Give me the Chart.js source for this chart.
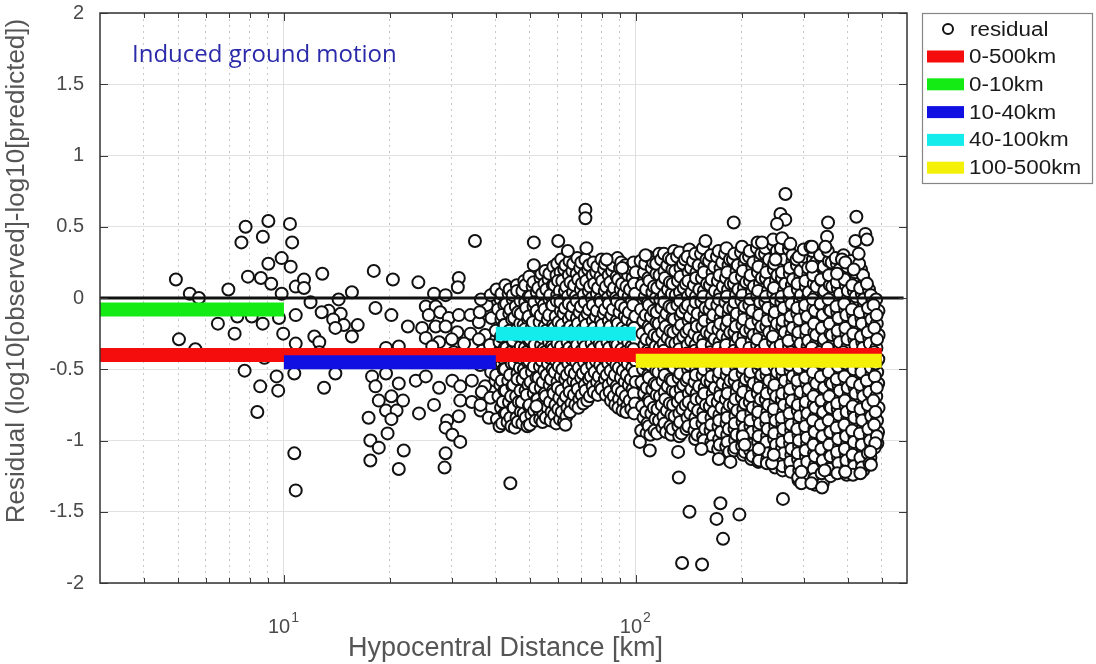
<!DOCTYPE html>
<html>
<head>
<meta charset="utf-8">
<script src="https://cdn.jsdelivr.net/npm/chart.js@4.4.1/dist/chart.umd.min.js"></script>
<style>
  html, body { margin: 0; padding: 0; background: #ffffff; }
  canvas { display: block; }
</style>
</head>
<body>
<canvas id="residualChart" width="1096" height="664"></canvas>
<script>
// Residuals as [hypocentral distance (km), log10(observed) - log10(predicted)]
const residuals0to10 = [
  [4.93,0.13],[5.4,0.03],[5.73,0.0],[6.95,0.06],[7.78,0.50],[9.03,0.54],[7.57,0.39],[8.71,0.43],[9.85,0.28],[9.03,0.24],
  [7.9,0.15],[8.6,0.14],[9.2,0.10],[9.85,0.03],[7.37,-0.13],[8.1,-0.13],[9.68,-0.14],[6.49,-0.18],[8.7,-0.18],[7.24,-0.25],
  [9.95,-0.25],[5.03,-0.29],[5.6,-0.36],[6.98,-0.40],[8.8,-0.42],[7.73,-0.51],[9.53,-0.55],[8.56,-0.62],[9.63,-0.65],[8.4,-0.80]
];

const residuals10to40 = [
  [10.4,0.52],[10.55,0.39],[10.45,0.22],[10.8,0.08],[10.8,-0.12],[10.8,-0.32],[10.7,-0.53],[10.7,-1.09],[10.8,-1.35],
  [12.85,0.17],[18.0,0.19],[20.4,0.13],[24.1,0.11],[31.4,0.14],[31.2,0.075],[34.9,0.40],[11.4,0.13],[11.4,0.07],[11.9,-0.03],
  [15.6,0.04],[14.3,-0.01],[13.4,-0.09],[12.8,-0.10],[14.5,-0.11],[13.8,-0.15],[14.8,-0.19],[16.2,-0.19],[14.0,-0.21],
  [15.6,-0.27],[12.2,-0.27],[12.6,-0.31],[18.2,-0.07],[20.2,-0.12],[22.5,-0.20],[26.7,0.03],[28.8,0.02],[25.3,-0.06],
  [27.0,-0.06],[25.8,-0.12],[27.8,-0.10],[29.4,-0.14],[31.4,-0.12],[33.9,-0.12],[35.8,-0.17],[24.7,-0.21],[27.0,-0.20],
  [28.8,-0.20],[31.1,-0.24],[33.9,-0.25],[37.3,-0.26],[25.3,-0.28],[27.6,-0.31],[30.0,-0.29],[32.5,-0.32],[35.8,-0.29],
  [37.7,-0.05],[39.8,0.04],[19.5,-0.35],[21.2,-0.34],[26.4,-0.34],
  [12.6,-0.38],[15.3,-0.42],[18.6,-0.40],[22.6,-0.43],[27.6,-0.41],[33.5,-0.45],[30.4,-0.38],
  [14.0,-0.53],[13.0,-0.63],[17.8,-0.55],[18.2,-0.62],[19.5,-0.53],[21.2,-0.60],[18.6,-0.72],[20.2,-0.69],[21.8,-0.72],
  [19.5,-0.79],[20.9,-0.79],[23.7,-0.58],[25.3,-0.55],[27.6,-0.63],[30.1,-0.58],[31.7,-0.62],[34.2,-0.58],[37.3,-0.62],
  [39.9,-0.58],[31.7,-0.72],[34.2,-0.73],[36.2,-0.79],[38.2,-0.84],[26.7,-0.75],[24.2,-0.81],[17.4,-0.84],[20.2,-0.85],
  [29.1,-0.86],[31.4,-0.83],[28.8,-0.91],[30.1,-0.96],[31.7,-1.01],[19.7,-0.95],[17.6,-1.00],[18.6,-1.05],[17.6,-1.14],
  [21.9,-1.07],[21.2,-1.20],[28.8,-1.09],[28.6,-1.19],
  [36.3,-0.01],[36.0,-0.10],[36.6,-0.37],[36.1,-0.47],[36.5,-0.66],[36.2,-0.75],
  [38.7,0.02],[38.9,-0.14],[38.5,-0.33],[38.8,-0.52],[38.6,-0.70]
];

const residuals40to100 = [
  [40.2,0.06],[41.3,-0.01],[40.6,-0.08],[41.5,-0.15],[40.0,-0.23],[41.0,-0.31],[40.4,-0.39],[41.6,-0.46],[40.1,-0.54],[41.2,-0.61],[40.7,-0.69],[41.4,-0.77],[40.3,-0.85],[41.0,-0.90],
  [41.5,0.03],[42.3,-0.05],[41.7,-0.12],[42.2,-0.19],[41.4,-0.27],[42.4,-0.35],[41.8,-0.42],[42.1,-0.50],[41.6,-0.58],[42.3,-0.65],[41.9,-0.73],[42.4,-0.81],[41.7,-0.88],
  [42.6,0.09],[43.5,0.03],[42.8,-0.04],[43.7,-0.11],[42.4,-0.19],[43.3,-0.27],[42.9,-0.35],[43.8,-0.42],[42.5,-0.50],[43.4,-0.58],[42.7,-0.65],[43.6,-0.73],[42.8,-0.81],[43.2,-0.87],
  [43.8,0.06],[44.7,-0.01],[44.0,-0.08],[44.5,-0.15],[43.7,-0.23],[44.8,-0.31],[44.1,-0.38],[44.4,-0.46],[43.9,-0.54],[44.6,-0.62],[44.2,-0.69],[44.8,-0.77],[44.0,-0.84],[44.3,-0.90],
  [45.9,0.09],[44.7,0.02],[45.6,-0.06],[45.1,-0.14],[46.0,-0.22],[44.8,-0.30],[45.5,-0.38],[45.2,-0.46],[46.1,-0.53],[44.9,-0.61],[45.7,-0.69],[45.0,-0.77],[45.8,-0.84],[45.3,-0.91],
  [46.0,0.05],[47.0,-0.02],[46.3,-0.10],[46.9,-0.18],[45.9,-0.26],[47.1,-0.34],[46.4,-0.42],[46.8,-0.49],[46.1,-0.57],[47.0,-0.65],[46.5,-0.73],[47.1,-0.80],[46.2,-0.87],
  [48.2,0.12],[47.6,0.05],[48.5,-0.03],[47.1,-0.11],[48.0,-0.19],[47.5,-0.27],[48.4,-0.35],[47.2,-0.42],[48.1,-0.50],[47.7,-0.57],[48.6,-0.65],[47.4,-0.73],[48.0,-0.81],[47.6,-0.88],
  [48.5,0.09],[49.6,0.01],[48.8,-0.07],[49.4,-0.15],[48.4,-0.22],[49.7,-0.30],[48.9,-0.38],[49.3,-0.45],[48.6,-0.53],[49.5,-0.61],[49.0,-0.68],[49.7,-0.76],[48.7,-0.84],[49.2,-0.90],
  [49.8,0.15],[50.9,0.08],[50.1,0.01],[51.2,-0.06],[49.6,-0.13],[50.6,-0.21],[50.0,-0.29],[51.0,-0.37],[49.7,-0.44],[50.7,-0.52],[50.2,-0.59],[51.3,-0.67],[49.9,-0.75],[50.5,-0.82],[50.0,-0.89],
  [51.2,0.11],[52.3,0.04],[51.5,-0.03],[52.1,-0.10],[51.0,-0.17],[52.4,-0.25],[51.6,-0.33],[52.0,-0.40],[51.3,-0.48],[52.2,-0.56],[51.7,-0.63],[52.4,-0.71],[51.4,-0.79],[51.9,-0.86],
  [53.6,0.14],[52.8,0.07],[53.9,-0.01],[52.3,-0.09],[53.3,-0.17],[52.7,-0.25],[53.8,-0.33],[52.4,-0.40],[53.4,-0.48],[52.9,-0.56],[53.7,-0.63],[52.6,-0.71],[53.2,-0.79],[53.5,-0.85],
  [53.9,0.17],[55.0,0.10],[54.2,0.03],[54.8,-0.05],[53.7,-0.12],[55.1,-0.20],[54.3,-0.28],[54.7,-0.36],[54.0,-0.44],[54.9,-0.51],[54.4,-0.59],[55.1,-0.67],[54.1,-0.74],[54.6,-0.81],[54.3,-0.87],
  [55.3,0.19],[56.5,0.13],[55.7,0.06],[56.8,-0.01],[55.1,-0.08],[56.2,-0.15],[55.6,-0.23],[56.7,-0.31],[55.2,-0.38],[56.3,-0.46],[55.8,-0.54],[56.9,-0.61],[55.4,-0.69],[56.1,-0.77],[55.5,-0.84],
  [56.8,0.17],[58.1,0.09],[57.1,0.02],[57.8,-0.05],[56.7,-0.12],[58.2,-0.19],[57.3,-0.27],[57.7,-0.34],[57.0,-0.42],[58.0,-0.50],[57.4,-0.57],[58.2,-0.65],[57.0,-0.73],[57.6,-0.80],[57.3,-0.86],
  [58.3,0.22],[59.5,0.16],[58.7,0.09],[59.8,0.02],[58.0,-0.05],[59.2,-0.13],[58.6,-0.21],[59.7,-0.29],[58.2,-0.36],[59.3,-0.44],[58.8,-0.52],[59.9,-0.59],[58.4,-0.67],[59.1,-0.75],[58.6,-0.82],[59.4,-0.88],
  [59.8,0.24],[61.1,0.18],[60.1,0.12],[60.8,0.05],[59.6,-0.02],[61.2,-0.09],[60.3,-0.17],[60.7,-0.25],[59.9,-0.32],[61.0,-0.40],[60.4,-0.48],[61.2,-0.55],[60.0,-0.63],[60.6,-0.70],[60.2,-0.78],[60.9,-0.85],
  [61.4,0.27],[62.6,0.20],[61.8,0.12],[62.9,0.05],[61.1,-0.03],[62.3,-0.11],[61.7,-0.19],[62.8,-0.27],[61.3,-0.34],[62.4,-0.42],[61.9,-0.50],[63.0,-0.57],[61.5,-0.65],[62.2,-0.73],[61.6,-0.80],[62.5,-0.87],
  [63.1,0.23],[64.5,0.16],[63.4,0.08],[64.1,0.01],[62.9,-0.07],[64.5,-0.15],[63.6,-0.23],[64.0,-0.31],[63.2,-0.38],[64.3,-0.46],[63.7,-0.54],[64.5,-0.61],[63.3,-0.69],[63.9,-0.77],[63.5,-0.83],
  [64.8,0.26],[66.0,0.19],[65.2,0.11],[66.3,0.04],[64.5,-0.04],[65.7,-0.12],[65.1,-0.20],[66.2,-0.28],[64.7,-0.35],[65.8,-0.43],[65.3,-0.51],[66.4,-0.58],[64.9,-0.66],[65.6,-0.74],[65.0,-0.80],
  [66.4,0.24],[67.9,0.17],[66.8,0.09],[67.5,0.01],[66.3,-0.06],[68.0,-0.14],[67.0,-0.22],[67.4,-0.30],[66.6,-0.37],[67.7,-0.45],[67.1,-0.53],[68.0,-0.60],[66.7,-0.68],[67.3,-0.75],
  [68.2,0.28],[69.5,0.21],[68.6,0.13],[69.8,0.06],[67.9,-0.02],[69.2,-0.10],[68.5,-0.18],[69.7,-0.26],[68.1,-0.33],[69.3,-0.41],[68.8,-0.49],[69.9,-0.56],[68.4,-0.64],[69.1,-0.71],[68.7,-0.77],
  [70.0,0.25],[71.5,0.17],[70.3,0.10],[71.1,0.02],[69.8,-0.06],[71.6,-0.14],[70.5,-0.22],[71.0,-0.30],[70.1,-0.37],[71.3,-0.45],[70.7,-0.53],[71.6,-0.61],[70.2,-0.68],[70.9,-0.74],
  [71.9,0.27],[73.2,0.20],[72.3,0.12],[73.5,0.05],[71.6,-0.03],[72.9,-0.11],[72.2,-0.19],[73.4,-0.27],[71.8,-0.34],[73.0,-0.42],[72.5,-0.50],[73.6,-0.57],[72.0,-0.65],[72.8,-0.72],
  [73.7,0.23],[75.4,0.16],[74.1,0.08],[75.0,0.00],[73.6,-0.08],[75.5,-0.16],[74.3,-0.24],[74.9,-0.32],[73.9,-0.39],[75.2,-0.47],[74.5,-0.55],[75.4,-0.62],[74.0,-0.69],
  [75.8,0.25],[77.2,0.18],[76.2,0.10],[77.5,0.03],[75.5,-0.05],[76.9,-0.13],[76.1,-0.21],[77.4,-0.29],[75.7,-0.36],[77.0,-0.44],[76.4,-0.52],[77.6,-0.59],[76.0,-0.66],
  [77.7,0.22],[79.4,0.15],[78.1,0.07],[79.0,-0.01],[77.5,-0.09],[79.5,-0.16],[78.3,-0.24],[78.9,-0.32],[77.8,-0.40],[79.2,-0.47],[78.5,-0.55],[79.4,-0.62],[78.0,-0.68],
  [79.9,0.27],[81.3,0.20],[80.3,0.12],[81.6,0.05],[79.6,-0.03],[81.0,-0.11],[80.2,-0.19],[81.5,-0.27],[79.8,-0.34],[81.1,-0.42],[80.5,-0.50],[81.7,-0.57],[80.0,-0.64],
  [81.8,0.24],[83.7,0.16],[82.3,0.08],[83.2,0.00],[81.7,-0.08],[83.8,-0.16],[82.5,-0.24],[83.1,-0.31],[82.0,-0.39],[83.5,-0.46],[82.7,-0.54],[83.7,-0.61],[82.2,-0.68],
  [84.1,0.26],[85.6,0.19],[84.6,0.11],[86.0,0.04],[83.8,-0.04],[85.3,-0.12],[84.5,-0.20],[85.8,-0.28],[84.0,-0.35],[85.4,-0.43],[84.8,-0.51],[86.1,-0.58],[84.3,-0.66],[85.0,-0.72],
  [86.2,0.23],[88.2,0.15],[86.7,0.07],[87.7,0.00],[86.1,-0.08],[88.3,-0.16],[87.0,-0.24],[87.6,-0.32],[86.4,-0.39],[88.0,-0.47],[87.2,-0.54],[88.2,-0.62],[86.6,-0.69],[87.4,-0.75],
  [88.7,0.28],[90.2,0.21],[89.1,0.13],[90.6,0.06],[88.4,-0.02],[89.9,-0.10],[89.0,-0.18],[90.4,-0.26],[88.6,-0.33],[90.0,-0.41],[89.4,-0.49],[90.7,-0.56],[88.9,-0.64],[89.6,-0.71],[89.2,-0.77],
  [90.9,0.25],[93.0,0.18],[91.4,0.10],[92.5,0.03],[90.8,-0.05],[93.1,-0.13],[91.6,-0.21],[92.4,-0.29],[91.1,-0.36],[92.8,-0.44],[91.9,-0.51],[93.0,-0.59],[91.3,-0.66],[92.2,-0.73],[91.7,-0.79],
  [93.5,0.23],[95.1,0.16],[94.0,0.08],[95.4,0.01],[93.2,-0.07],[94.7,-0.15],[93.8,-0.23],[95.2,-0.31],[93.4,-0.38],[94.9,-0.46],[94.2,-0.54],[95.5,-0.61],[93.6,-0.69],[94.5,-0.76],[93.9,-0.80],
  [95.7,0.21],[97.9,0.14],[96.3,0.06],[97.4,-0.02],[95.6,-0.10],[98.0,-0.18],[96.5,-0.26],[97.3,-0.34],[95.9,-0.41],[97.7,-0.49],[96.8,-0.57],[97.9,-0.64],[96.1,-0.72],[97.1,-0.78],
  [98.6,0.25],[99.9,0.18],[98.9,0.10],[99.6,0.03],[98.3,-0.05],[99.7,-0.13],[98.8,-0.21],[99.8,-0.29],[98.5,-0.36],[99.8,-0.44],[99.2,-0.52],[99.9,-0.59],[98.7,-0.67],[99.5,-0.74],[98.9,-0.81],
  [51.3,0.39],[51.3,0.23],[60.2,0.40],[63.1,-0.89],[64.1,0.33],[71.9,0.62],[71.9,0.56],[72.4,0.35],[82.6,0.27],[91.5,0.21],[44.0,-1.30],[52.2,-0.76]
];

const residuals100to500 = [
  [103.2,0.26],[105.5,0.18],[104.0,0.09],[106.1,0.01],[103.5,-0.08],[105.0,-0.16],[104.4,-0.25],[105.8,-0.33],[103.0,-0.42],[104.9,-0.50],[103.8,-0.59],[105.6,-0.67],[104.2,-0.76],[105.2,-0.84],[103.6,-0.93],
  [106.4,0.24],[108.6,0.14],[107.0,0.06],[108.3,-0.03],[106.7,-0.12],[108.8,-0.20],[107.2,-0.29],[108.1,-0.37],[106.5,-0.46],[108.5,-0.54],[107.4,-0.63],[108.9,-0.71],[106.9,-0.80],[108.0,-0.88],[107.3,-0.95],
  [108.6,0.29],[111.0,0.21],[109.3,0.12],[111.5,0.04],[108.9,-0.05],[110.4,-0.13],[109.8,-0.22],[111.2,-0.30],[108.4,-0.39],[110.1,-0.47],[109.0,-0.56],[111.4,-0.64],[109.5,-0.73],[110.7,-0.81],[108.8,-0.90],[110.0,-0.96],
  [112.0,0.25],[114.4,0.17],[112.6,0.08],[114.0,0.00],[112.3,-0.09],[114.5,-0.17],[112.9,-0.26],[113.8,-0.34],[112.1,-0.43],[114.2,-0.51],[113.1,-0.60],[114.6,-0.68],[112.5,-0.77],[113.7,-0.85],[113.0,-0.93],
  [116.5,0.31],[114.3,0.24],[116.8,0.16],[115.0,0.07],[117.3,-0.01],[114.6,-0.10],[116.2,-0.18],[115.5,-0.27],[117.0,-0.35],[114.1,-0.44],[115.9,-0.52],[114.8,-0.61],[117.1,-0.69],[115.3,-0.78],[116.4,-0.86],[114.9,-0.95],
  [118.0,0.27],[120.6,0.19],[118.7,0.10],[120.2,0.02],[118.3,-0.07],[120.7,-0.15],[118.9,-0.24],[119.9,-0.32],[118.1,-0.41],[120.4,-0.49],[119.2,-0.58],[120.8,-0.66],[118.5,-0.75],[119.8,-0.83],[119.0,-0.91],
  [120.2,0.31],[122.9,0.23],[121.0,0.14],[123.4,0.06],[120.6,-0.03],[122.2,-0.11],[121.5,-0.20],[123.1,-0.28],[120.0,-0.37],[121.8,-0.45],[120.8,-0.54],[123.2,-0.62],[121.3,-0.71],[122.5,-0.79],[120.7,-0.88],[121.9,-0.94],
  [124.3,0.28],[127.1,0.20],[125.0,0.11],[126.6,0.03],[124.6,-0.06],[127.2,-0.14],[125.3,-0.23],[126.3,-0.31],[124.4,-0.40],[126.9,-0.48],[125.6,-0.57],[127.3,-0.65],[124.9,-0.74],[126.2,-0.82],[125.4,-0.90],[126.0,-0.96],
  [128.5,0.33],[126.6,0.27],[129.4,0.19],[127.3,0.10],[129.9,0.02],[126.9,-0.07],[128.6,-0.15],[127.9,-0.24],[129.5,-0.32],[126.4,-0.41],[128.3,-0.49],[127.1,-0.58],[129.7,-0.66],[127.6,-0.75],[128.9,-0.83],[127.2,-0.92],
  [131.0,0.29],[134.0,0.21],[131.8,0.12],[133.5,0.04],[131.3,-0.05],[134.1,-0.13],[132.1,-0.22],[133.2,-0.30],[131.1,-0.39],[133.8,-0.47],[132.4,-0.56],[134.2,-0.64],[131.6,-0.73],[133.0,-0.81],[132.2,-0.90],[132.9,-0.97],
  [133.2,0.32],[136.2,0.24],[134.0,0.15],[136.8,0.07],[133.5,-0.02],[135.3,-0.10],[134.6,-0.19],[136.4,-0.27],[133.0,-0.36],[135.0,-0.44],[133.8,-0.53],[136.5,-0.61],[134.3,-0.70],[135.7,-0.78],[133.6,-0.87],[134.9,-0.95],
  [138.0,0.27],[141.2,0.18],[138.8,0.10],[140.6,0.01],[138.3,-0.07],[141.3,-0.16],[139.2,-0.24],[140.3,-0.33],[138.1,-0.41],[140.9,-0.50],[139.4,-0.58],[141.4,-0.67],[138.6,-0.75],[140.2,-0.84],[139.3,-0.92],
  [142.0,0.34],[140.2,0.29],[143.4,0.21],[141.0,0.12],[144.0,0.04],[140.6,-0.05],[142.5,-0.13],[141.7,-0.22],[143.6,-0.30],[140.0,-0.39],[142.1,-0.47],[140.8,-0.56],[143.8,-0.64],[141.3,-0.73],[142.8,-0.81],[141.0,-0.90],
  [145.4,0.26],[148.8,0.18],[146.3,0.09],[148.2,0.01],[145.7,-0.08],[148.9,-0.16],[146.7,-0.25],[147.8,-0.33],[145.5,-0.42],[148.5,-0.50],[146.9,-0.59],[149.0,-0.67],[146.1,-0.76],[147.7,-0.84],[146.8,-0.93],[147.5,-0.99],
  [147.5,0.31],[150.9,0.23],[148.3,0.14],[151.5,0.06],[147.9,-0.03],[149.9,-0.11],[149.1,-0.20],[151.1,-0.28],[147.2,-0.37],[149.5,-0.45],[148.1,-0.54],[151.3,-0.62],[148.7,-0.71],[150.3,-0.79],[148.0,-0.88],[149.6,-0.96],
  [153.2,0.31],[156.8,0.22],[154.1,0.14],[156.2,0.05],[153.6,-0.03],[156.9,-0.12],[154.6,-0.20],[155.8,-0.29],[153.3,-0.37],[156.5,-0.46],[154.8,-0.54],[157.0,-0.63],[154.0,-0.71],[155.6,-0.80],[154.7,-0.88],[155.4,-0.97],
  [155.2,0.35],[158.8,0.27],[156.1,0.18],[159.4,0.10],[155.6,0.01],[157.7,-0.07],[156.9,-0.16],[159.0,-0.24],[154.9,-0.33],[157.3,-0.41],[155.9,-0.50],[159.2,-0.58],[156.5,-0.67],[158.2,-0.75],[155.7,-0.84],[157.5,-0.92],[156.3,-1.00],
  [161.5,0.26],[165.3,0.18],[162.5,0.09],[164.7,0.01],[161.9,-0.08],[165.4,-0.16],[163.0,-0.25],[164.3,-0.33],[161.6,-0.42],[165.0,-0.50],[163.2,-0.59],[165.5,-0.67],[162.3,-0.76],[164.1,-0.84],[163.1,-0.93],[163.9,-1.01],
  [163.4,0.30],[167.2,0.22],[164.3,0.13],[167.8,0.05],[163.8,-0.04],[166.0,-0.12],[165.2,-0.21],[167.4,-0.29],[163.0,-0.38],[165.6,-0.46],[164.1,-0.55],[167.6,-0.63],[164.7,-0.72],[166.5,-0.80],[163.9,-0.89],[165.8,-0.97],[164.5,-1.04],
  [170.1,0.29],[174.1,0.21],[171.1,0.12],[173.5,0.03],[170.5,-0.05],[174.2,-0.14],[171.7,-0.22],[173.0,-0.31],[170.2,-0.39],[173.8,-0.48],[171.9,-0.56],[174.3,-0.65],[170.9,-0.73],[172.8,-0.82],[171.8,-0.90],[172.6,-0.99],[171.4,-1.06],
  [172.0,0.33],[176.0,0.25],[173.0,0.16],[176.7,0.08],[172.5,-0.01],[174.8,-0.09],[173.9,-0.18],[176.2,-0.26],[171.6,-0.35],[174.3,-0.43],[172.8,-0.52],[176.4,-0.60],[173.4,-0.69],[175.3,-0.77],[172.6,-0.86],[174.6,-0.94],[173.2,-1.03],
  [179.3,0.31],[183.5,0.23],[180.4,0.14],[182.9,0.06],[179.7,-0.03],[183.6,-0.11],[181.0,-0.20],[182.4,-0.28],[179.4,-0.37],[183.2,-0.45],[181.2,-0.54],[183.7,-0.62],[180.2,-0.71],[182.1,-0.79],[181.1,-0.88],[181.9,-0.96],[180.7,-1.04],
  [181.0,0.35],[185.2,0.27],[182.0,0.18],[185.9,0.10],[181.5,0.01],[184.0,-0.07],[182.9,-0.16],[185.4,-0.24],[180.6,-0.33],[183.5,-0.41],[181.8,-0.50],[185.6,-0.58],[182.4,-0.67],[184.6,-0.75],[181.7,-0.84],[183.8,-0.92],[182.2,-1.01],[184.3,-1.08],
  [188.9,0.27],[193.3,0.19],[190.0,0.10],[192.7,0.02],[189.3,-0.07],[193.4,-0.15],[190.7,-0.24],[192.2,-0.32],[189.0,-0.41],[193.0,-0.49],[190.9,-0.58],[193.5,-0.66],[189.8,-0.75],[191.9,-0.83],[190.8,-0.92],[191.6,-1.00],[190.3,-1.07],
  [190.5,0.31],[194.9,0.23],[191.6,0.14],[195.6,0.06],[191.1,-0.03],[193.6,-0.11],[192.5,-0.20],[195.1,-0.28],[190.1,-0.37],[193.1,-0.45],[191.4,-0.54],[195.3,-0.62],[192.0,-0.71],[194.2,-0.79],[191.2,-0.88],[193.4,-0.96],[191.9,-1.05],
  [199.1,0.32],[203.7,0.24],[200.3,0.15],[203.0,0.07],[199.5,-0.02],[203.8,-0.10],[200.9,-0.19],[202.5,-0.27],[199.2,-0.36],[203.4,-0.44],[201.2,-0.53],[203.9,-0.61],[200.1,-0.70],[202.2,-0.78],[201.0,-0.87],[201.9,-0.95],[200.6,-1.04],[202.0,-1.10],
  [200.4,0.36],[205.1,0.28],[201.6,0.19],[205.8,0.11],[201.1,0.02],[203.7,-0.06],[202.6,-0.15],[205.3,-0.23],[200.0,-0.32],[203.2,-0.40],[201.4,-0.49],[205.5,-0.57],[202.0,-0.66],[204.3,-0.74],[201.2,-0.83],[203.5,-0.91],[201.8,-1.00],[204.0,-1.08],
  [209.8,0.29],[214.6,0.21],[211.0,0.12],[213.9,0.04],[210.2,-0.05],[214.7,-0.13],[211.7,-0.22],[213.4,-0.30],[209.9,-0.39],[214.3,-0.47],[211.9,-0.56],[214.8,-0.64],[210.8,-0.73],[213.0,-0.81],[211.8,-0.90],[212.7,-0.98],[211.3,-1.07],[212.9,-1.13],
  [210.8,0.33],[215.8,0.25],[212.1,0.16],[216.6,0.08],[211.6,-0.01],[214.3,-0.09],[213.2,-0.18],[216.0,-0.26],[210.4,-0.35],[213.8,-0.43],[211.9,-0.52],[216.2,-0.60],[212.5,-0.69],[215.0,-0.77],[211.7,-0.86],[214.1,-0.94],[212.3,-1.03],[214.7,-1.11],
  [221.0,0.35],[226.1,0.27],[222.3,0.18],[225.4,0.10],[221.5,0.01],[226.2,-0.07],[223.1,-0.16],[224.9,-0.24],[221.2,-0.33],[225.8,-0.41],[223.3,-0.50],[226.3,-0.58],[222.1,-0.67],[224.5,-0.75],[223.2,-0.84],[224.2,-0.92],[222.7,-1.01],[224.4,-1.09],[223.0,-1.15],
  [221.9,0.39],[227.2,0.31],[223.2,0.22],[228.0,0.14],[222.7,0.05],[225.6,-0.03],[224.4,-0.12],[227.4,-0.20],[221.4,-0.29],[225.0,-0.37],[223.0,-0.46],[227.6,-0.54],[223.7,-0.63],[226.3,-0.71],[222.8,-0.80],[225.3,-0.88],[223.5,-0.97],[226.0,-1.05],[224.2,-1.14],
  [232.9,0.31],[238.3,0.22],[234.2,0.14],[237.5,0.05],[233.4,-0.03],[238.4,-0.12],[235.0,-0.20],[237.0,-0.29],[233.1,-0.37],[237.9,-0.46],[235.3,-0.54],[238.5,-0.63],[234.1,-0.71],[236.6,-0.80],[235.1,-0.88],[236.3,-0.97],[234.7,-1.05],[236.5,-1.13],
  [233.5,0.35],[239.1,0.27],[235.0,0.18],[240.0,0.10],[234.4,0.01],[237.4,-0.07],[236.2,-0.16],[239.3,-0.24],[233.0,-0.33],[236.8,-0.41],[234.7,-0.50],[239.5,-0.58],[235.5,-0.67],[238.2,-0.75],[234.6,-0.84],[237.1,-0.92],[235.2,-1.01],[237.9,-1.09],[235.8,-1.16],
  [245.5,0.37],[251.1,0.29],[246.9,0.20],[250.3,0.12],[246.0,0.03],[251.2,-0.05],[247.7,-0.14],[249.8,-0.22],[245.7,-0.31],[250.8,-0.39],[248.0,-0.48],[251.3,-0.56],[246.7,-0.65],[249.4,-0.73],[247.8,-0.82],[249.1,-0.90],[247.3,-0.99],[249.2,-1.07],[248.1,-1.16],
  [245.7,0.41],[251.7,0.33],[247.3,0.24],[252.6,0.16],[246.8,0.07],[250.0,-0.01],[248.6,-0.10],[251.9,-0.18],[245.2,-0.27],[249.3,-0.35],[247.0,-0.44],[252.1,-0.52],[247.8,-0.61],[250.7,-0.69],[246.9,-0.78],[249.6,-0.86],[247.6,-0.95],[250.3,-1.03],[248.2,-1.12],[249.0,-1.19],
  [258.6,0.31],[264.6,0.22],[260.1,0.14],[263.7,0.05],[259.2,-0.03],[264.7,-0.12],[261.0,-0.20],[263.2,-0.29],[258.9,-0.37],[264.2,-0.46],[261.3,-0.54],[264.8,-0.63],[260.0,-0.71],[262.7,-0.80],[261.1,-0.88],[262.5,-0.97],[260.5,-1.05],[262.6,-1.14],[261.4,-1.21],
  [258.6,0.35],[264.9,0.27],[260.3,0.18],[265.9,0.10],[259.7,0.01],[263.2,-0.07],[261.7,-0.16],[265.2,-0.24],[258.1,-0.33],[262.4,-0.41],[260.0,-0.50],[265.5,-0.58],[260.9,-0.67],[263.9,-0.75],[259.8,-0.84],[262.8,-0.92],[260.6,-1.01],[263.5,-1.09],[261.2,-1.18],
  [272.5,0.34],[278.8,0.26],[274.0,0.17],[277.8,0.09],[273.1,0.00],[278.9,-0.08],[275.0,-0.17],[277.3,-0.25],[272.7,-0.34],[278.3,-0.42],[275.3,-0.51],[279.0,-0.59],[273.9,-0.68],[276.8,-0.76],[275.1,-0.85],[276.5,-0.93],[274.5,-1.02],[276.7,-1.10],[275.4,-1.19],
  [272.1,0.38],[278.8,0.30],[273.9,0.21],[279.8,0.13],[273.3,0.04],[276.9,-0.04],[275.4,-0.13],[279.0,-0.21],[271.6,-0.30],[276.1,-0.38],[273.6,-0.47],[279.3,-0.55],[274.5,-0.64],[277.6,-0.72],[273.4,-0.81],[276.4,-0.89],[274.2,-0.98],[277.2,-1.06],[274.9,-1.15],[276.0,-1.22],
  [287.1,0.23],[293.7,0.15],[288.7,0.06],[292.8,-0.02],[287.8,-0.11],[293.8,-0.19],[289.7,-0.28],[292.2,-0.36],[287.4,-0.45],[293.3,-0.53],[290.1,-0.62],[293.9,-0.70],[288.6,-0.79],[291.6,-0.87],[289.9,-0.96],[291.3,-1.04],[289.2,-1.13],[291.5,-1.21],[290.2,-1.28],
  [286.4,0.27],[293.6,0.19],[288.3,0.10],[294.6,0.02],[287.6,-0.07],[291.5,-0.15],[289.9,-0.24],[293.8,-0.32],[285.8,-0.41],[290.6,-0.49],[288.0,-0.58],[294.1,-0.66],[288.9,-0.75],[292.2,-0.83],[287.8,-0.92],[291.0,-1.00],[288.7,-1.09],[291.8,-1.17],[289.4,-1.26],
  [302.5,0.25],[309.5,0.17],[304.2,0.08],[308.5,0.00],[303.3,-0.09],[309.6,-0.17],[305.3,-0.26],[307.9,-0.34],[302.8,-0.43],[309.0,-0.51],[305.6,-0.60],[309.7,-0.68],[304.1,-0.77],[307.3,-0.85],[305.4,-0.94],[306.9,-1.02],[304.7,-1.11],[307.1,-1.19],[305.8,-1.27],
  [301.4,0.29],[308.9,0.21],[303.4,0.12],[310.0,0.04],[302.7,-0.05],[306.8,-0.13],[305.1,-0.22],[309.2,-0.30],[300.8,-0.39],[305.8,-0.47],[303.1,-0.56],[309.5,-0.64],[304.0,-0.73],[307.5,-0.81],[302.9,-0.90],[306.3,-0.98],[303.8,-1.07],[307.1,-1.15],[304.5,-1.24],
  [318.8,0.27],[326.2,0.19],[320.6,0.10],[325.2,0.02],[319.6,-0.07],[326.3,-0.15],[321.8,-0.24],[324.5,-0.32],[319.1,-0.41],[325.7,-0.49],[322.1,-0.58],[326.4,-0.66],[320.5,-0.75],[323.9,-0.83],[321.9,-0.92],[323.5,-1.00],[321.2,-1.09],[323.7,-1.17],[322.3,-1.26],[322.8,-1.31],
  [317.2,0.33],[325.1,0.25],[319.3,0.16],[326.3,0.08],[318.6,-0.01],[322.9,-0.09],[321.1,-0.18],[325.4,-0.26],[316.6,-0.35],[321.8,-0.43],[319.0,-0.52],[325.8,-0.60],[320.0,-0.69],[323.6,-0.77],[318.8,-0.86],[322.4,-0.94],[319.8,-1.03],[323.2,-1.11],[320.5,-1.20],[321.6,-1.27],
  [336.0,0.29],[343.8,0.20],[337.9,0.12],[342.8,0.03],[336.9,-0.05],[343.9,-0.14],[339.2,-0.22],[342.0,-0.31],[336.3,-0.39],[343.3,-0.48],[339.5,-0.56],[344.0,-0.65],[337.8,-0.73],[341.4,-0.82],[339.3,-0.90],[340.9,-0.99],[338.6,-1.07],[341.2,-1.16],[339.7,-1.24],[340.2,-1.30],
  [334.0,0.30],[342.3,0.22],[336.2,0.13],[343.5,0.05],[335.4,-0.04],[339.9,-0.12],[338.0,-0.21],[342.6,-0.29],[333.4,-0.38],[338.8,-0.46],[335.8,-0.55],[343.0,-0.63],[337.0,-0.72],[340.7,-0.80],[335.6,-0.89],[339.4,-0.97],[336.8,-1.06],[340.1,-1.14],[337.5,-1.23],
  [354.0,0.26],[362.2,0.18],[356.0,0.09],[361.1,0.01],[354.9,-0.08],[362.3,-0.16],[357.4,-0.25],[360.3,-0.33],[354.3,-0.42],[361.7,-0.50],[357.7,-0.59],[362.4,-0.67],[355.9,-0.76],[359.7,-0.84],[357.5,-0.93],[359.2,-1.01],[356.7,-1.10],[359.4,-1.18],[357.9,-1.25],
  [351.5,0.33],[360.3,0.25],[353.8,0.16],[361.6,0.08],[353.0,-0.01],[357.8,-0.09],[355.8,-0.18],[360.7,-0.26],[351.0,-0.35],[356.7,-0.43],[353.5,-0.52],[361.1,-0.60],[354.8,-0.69],[358.7,-0.77],[353.2,-0.86],[357.4,-0.94],[354.5,-1.03],[358.0,-1.11],[355.2,-1.20],
  [373.0,0.24],[381.6,0.15],[375.1,0.07],[380.5,-0.02],[373.9,-0.10],[381.7,-0.19],[376.5,-0.27],[379.6,-0.36],[373.3,-0.44],[381.1,-0.53],[376.9,-0.61],[381.8,-0.70],[375.0,-0.78],[379.0,-0.87],[376.7,-0.95],[378.5,-1.04],[375.8,-1.12],[378.7,-1.20],
  [370.0,0.28],[379.3,0.20],[372.5,0.11],[380.6,0.03],[371.7,-0.06],[376.8,-0.14],[374.6,-0.23],[379.7,-0.31],[369.4,-0.40],[375.6,-0.48],[372.2,-0.57],[380.1,-0.65],[373.5,-0.74],[377.6,-0.82],[371.9,-0.91],[376.2,-0.99],[373.2,-1.08],[376.9,-1.16],[374.0,-1.23],
  [393.1,0.26],[402.1,0.17],[395.3,0.09],[401.0,0.00],[394.0,-0.08],[402.2,-0.17],[396.7,-0.25],[400.0,-0.34],[393.4,-0.42],[401.6,-0.51],[397.1,-0.59],[402.3,-0.68],[395.2,-0.76],[399.4,-0.85],[396.9,-0.93],[398.8,-1.02],[396.0,-1.10],[399.0,-1.18],[397.4,-1.24],
  [389.4,0.30],[399.2,0.22],[392.0,0.13],[400.6,0.05],[391.2,-0.04],[396.6,-0.12],[394.2,-0.21],[399.6,-0.29],[388.8,-0.38],[395.3,-0.46],[391.7,-0.55],[400.1,-0.63],[393.0,-0.72],[397.4,-0.80],[391.5,-0.89],[396.0,-0.97],[392.8,-1.06],[396.8,-1.14],[393.7,-1.22],
  [414.2,0.22],[423.7,0.14],[416.6,0.05],[422.6,-0.03],[415.2,-0.12],[423.8,-0.20],[418.0,-0.29],[421.5,-0.37],[414.6,-0.46],[423.2,-0.54],[418.5,-0.63],[423.9,-0.71],[416.4,-0.80],[420.9,-0.88],[418.2,-0.97],[420.2,-1.05],[417.3,-1.14],[420.5,-1.21],
  [409.8,0.26],[420.2,0.18],[412.5,0.09],[421.7,0.01],[411.7,-0.08],[417.4,-0.16],[414.9,-0.25],[420.6,-0.33],[409.2,-0.42],[416.0,-0.50],[412.2,-0.59],[421.1,-0.67],[413.6,-0.76],[418.2,-0.84],[412.0,-0.93],[416.8,-1.01],[413.3,-1.10],[417.6,-1.18],[414.4,-1.24],
  [436.5,0.20],[446.5,0.12],[439.0,0.03],[445.3,-0.05],[437.5,-0.14],[446.6,-0.22],[440.5,-0.31],[444.2,-0.39],[436.9,-0.48],[446.0,-0.56],[441.0,-0.65],[446.7,-0.73],[438.8,-0.82],[443.5,-0.90],[440.7,-0.99],[442.8,-1.07],[439.8,-1.15],[443.0,-1.21],
  [431.3,0.24],[442.3,0.16],[434.2,0.07],[443.9,-0.01],[433.4,-0.10],[439.4,-0.18],[436.7,-0.27],[442.7,-0.35],[430.7,-0.44],[437.9,-0.52],[433.9,-0.61],[443.2,-0.69],[435.3,-0.78],[440.2,-0.86],[433.7,-0.95],[438.7,-1.03],[435.0,-1.12],[439.5,-1.19],
  [460.0,0.06],[470.5,-0.02],[462.6,-0.11],[469.2,-0.19],[461.0,-0.28],[470.6,-0.36],[464.2,-0.45],[468.0,-0.53],[460.4,-0.62],[469.9,-0.70],[464.7,-0.79],[470.7,-0.87],[462.4,-0.96],[467.3,-1.04],[464.4,-1.12],
  [454.0,0.10],[465.6,0.02],[457.1,-0.07],[467.3,-0.15],[456.3,-0.24],[462.6,-0.32],[459.7,-0.41],[466.0,-0.49],[453.4,-0.58],[461.1,-0.66],[456.8,-0.75],[466.6,-0.83],[458.2,-0.92],[463.4,-1.00],[456.6,-1.09],[461.8,-1.16],
  [482.0,-0.01],[489.5,-0.09],[484.2,-0.18],[490.0,-0.26],[483.0,-0.35],[489.0,-0.43],[485.5,-0.52],[488.6,-0.60],[482.5,-0.69],[489.8,-0.77],[484.8,-0.86],[488.2,-0.94],[486.0,-1.02],
  [474.0,-0.05],[483.5,-0.12],[476.5,-0.21],[485.0,-0.29],[475.5,-0.38],[481.0,-0.46],[478.0,-0.55],[484.0,-0.63],[473.5,-0.72],[480.0,-0.80],[476.0,-0.89],[484.5,-0.97],[477.5,-1.05],
  [102.7,-1.01],[109.6,-1.07],[106.6,0.30],[157.8,0.40],[172.1,-1.13],[185.8,-1.15],[169.6,-1.55],[174.0,-1.44],[177.0,-1.69],
  [197.0,-1.52],[142.1,-1.50],[135.4,-1.86],[154.3,-1.87],[131.9,-1.08],[132.5,-1.26],[153.7,-1.06],[189.8,0.53],[201.4,-0.97],
  [204.0,-1.03],[223.6,-1.06],[243.9,-1.16],[246.6,-1.10],[266.3,0.73],[257.7,0.59],[266.0,0.55],[252.0,0.52],[260.4,0.42],
  [275.0,0.38],[249.5,0.27],[228.4,0.39],[262.0,-1.41],[290.4,0.29],[300.1,0.34],[313.5,0.36],[316.9,0.22],[316.9,0.36],
  [295.6,-1.30],[315.6,-1.30],[338.3,-1.33],[295.6,-1.22],[344.3,-1.21],[351.9,0.53],[349.6,0.43],[345.9,0.36],[394.0,-1.22],
  [434.9,-1.23],[373.2,0.17],[385.5,0.27],[394.0,0.25],[423.6,0.57],[420.9,0.40],[430.0,0.31],[416.3,0.20],[449.3,0.45],
  [454.0,0.41],[466.0,-1.17],[479.7,-1.02],[464.4,-1.08]
];

// Mean residual per distance bin
const fitLabels = ['0-500km', '0-10km', '10-40km', '40-100km', '100-500km'];
const fitStart = [3, 3, 10, 40, 100];
const fitEnd = [500, 10, 40, 100, 500];
const fitResidual = [-0.40, -0.08, -0.45, -0.25, -0.44];
const fitColors = ['#f50c0c', '#14ea14', '#1010e2', '#14ecec', '#f4f008'];

// Zero-residual reference line
const zeroSpan = [3, 577];

// Axis ticks
const xTickValues = [4, 5, 6, 7, 8, 9, 10, 20, 30, 40, 50, 60, 70, 80, 90, 100, 200, 300, 400, 500];
const xMajorTicks = [10, 100];
const yTickValues = [-2, -1.5, -1, -0.5, 0, 0.5, 1, 1.5, 2];
const yTickLabels = ['-2', '-1.5', '-1', '-0.5', '0', '0.5', '1', '1.5', '2'];

const allResiduals = [...residuals0to10, ...residuals10to40, ...residuals40to100, ...residuals100to500]
  .map(([d, r]) => ({ x: d, y: r }));

const fitDatasets = fitLabels.map((label, i) => ({
  type: 'line',
  label,
  data: [{ x: fitStart[i], y: fitResidual[i] }, { x: fitEnd[i], y: fitResidual[i] }],
  borderColor: fitColors[i],
  borderWidth: 14,
  borderCapStyle: 'butt',
  pointRadius: 0,
  order: 4 - i
}));

function drawText(ctx, str, x, y, font, color, align, baseline, sx) {
  ctx.save();
  ctx.translate(x, y);
  ctx.scale(sx || 1, 1);
  ctx.font = font;
  ctx.fillStyle = color;
  ctx.textAlign = align;
  ctx.textBaseline = baseline;
  ctx.fillText(str, 0, 0);
  ctx.restore();
}

const axesDecor = {
  id: 'axesDecor',
  afterDatasetsDraw(chart) {
    const { ctx, chartArea: a, scales: { x, y } } = chart;
    ctx.save();

    // inward tick marks on all four sides
    ctx.strokeStyle = '#3a3a3a';
    ctx.lineWidth = 1;
    ctx.beginPath();
    yTickValues.forEach(v => {
      const py = Math.round(y.getPixelForValue(v)) + 0.5;
      ctx.moveTo(a.left, py); ctx.lineTo(a.left + 8, py);
      ctx.moveTo(a.right, py); ctx.lineTo(a.right - 8, py);
    });
    xTickValues.forEach(v => {
      const len = xMajorTicks.includes(v) ? 8 : 5;
      const px = Math.round(x.getPixelForValue(v)) + 0.5;
      ctx.moveTo(px, a.bottom); ctx.lineTo(px, a.bottom - len);
      ctx.moveTo(px, a.top); ctx.lineTo(px, a.top + len);
    });
    ctx.stroke();

    // axes box
    ctx.lineWidth = 1.5;
    ctx.strokeStyle = '#333333';
    ctx.strokeRect(a.left, a.top, a.right - a.left, a.bottom - a.top);

    // y tick labels
    const tickFont = '20px "Liberation Sans", Arial, sans-serif';
    yTickValues.forEach((v, i) => {
      drawText(ctx, yTickLabels[i], 84, y.getPixelForValue(v), tickFont, '#4a4a4a', 'right', 'middle');
    });

    // x tick labels as powers of ten
    const supFont = '14px "Liberation Sans", Arial, sans-serif';
    xMajorTicks.forEach(v => {
      const px = x.getPixelForValue(v);
      const exp = String(Math.round(Math.log10(v)));
      ctx.font = tickFont;
      const wBase = ctx.measureText('10').width;
      ctx.font = supFont;
      const wExp = ctx.measureText(exp).width;
      const start = px - (wBase + wExp) / 2 - 1;
      drawText(ctx, '10', start, 633, tickFont, '#4a4a4a', 'left', 'alphabetic');
      drawText(ctx, exp, start + wBase + 1, 622, supFont, '#4a4a4a', 'left', 'alphabetic');
    });

    // axis titles
    drawText(ctx, 'Hypocentral Distance [km]', (a.left + a.right) / 2 + 2, 656, '27px "Liberation Sans", Arial, sans-serif', '#555555', 'center', 'alphabetic');
    ctx.save();
    ctx.translate(24, 271);
    ctx.rotate(-Math.PI / 2);
    ctx.font = '26px "Liberation Sans", Arial, sans-serif';
    ctx.fillStyle = '#555555';
    ctx.textAlign = 'center';
    ctx.textBaseline = 'alphabetic';
    ctx.fillText('Residual (log10[observed]-log10[predicted])', 0, 0);
    ctx.restore();

    // annotation inside the axes
    drawText(ctx, 'Induced ground motion', 132, 62, '24px "Open Sans", "Noto Sans", sans-serif', '#2a2aaa', 'left', 'alphabetic');

    // legend
    const lx = 922, ly = 13, lw = 170, lh = 170;
    ctx.fillStyle = '#ffffff';
    ctx.fillRect(lx, ly, lw, lh);
    ctx.strokeStyle = '#858585';
    ctx.lineWidth = 1.2;
    ctx.strokeRect(lx + 0.5, ly + 0.5, lw, lh);
    const legendFont = '20px "Liberation Sans", Arial, sans-serif';
    const rowY = 29;
    ctx.beginPath();
    ctx.arc(948, rowY, 5, 0, Math.PI * 2);
    ctx.fillStyle = '#ffffff';
    ctx.fill();
    ctx.lineWidth = 2;
    ctx.strokeStyle = '#111111';
    ctx.stroke();
    drawText(ctx, 'residual', 970, rowY + 1, legendFont, '#1a1a1a', 'left', 'middle', 1.12);
    fitLabels.forEach((label, i) => {
      const cy = 56.5 + i * 27.8;
      ctx.fillStyle = fitColors[i];
      ctx.fillRect(927, cy - 6, 37, 12);
      drawText(ctx, label, 969, cy + 1, legendFont, '#1a1a1a', 'left', 'middle', 1.12);
    });

    ctx.restore();
  }
};

new Chart(document.getElementById('residualChart'), {
  type: 'scatter',
  data: {
    datasets: [
      {
        type: 'scatter',
        label: 'residual',
        data: allResiduals,
        pointRadius: 6,
        pointBorderWidth: 2,
        pointBorderColor: '#111111',
        pointBackgroundColor: '#ffffff',
        order: 6
      },
      {
        type: 'line',
        label: 'zero',
        data: [{ x: zeroSpan[0], y: 0 }, { x: zeroSpan[1], y: 0 }],
        borderColor: '#111111',
        borderWidth: 3,
        pointRadius: 0,
        order: 5
      },
      ...fitDatasets
    ]
  },
  options: {
    responsive: false,
    animation: false,
    events: [],
    layout: { padding: { left: 100, top: 13, right: 189, bottom: 81 } },
    plugins: { legend: { display: false }, tooltip: { enabled: false } },
    scales: {
      x: {
        type: 'logarithmic',
        min: 3,
        max: 590,
        afterBuildTicks: axis => { axis.ticks = xTickValues.map(v => ({ value: v, major: xMajorTicks.includes(v) })); },
        ticks: { display: false },
        grid: {
          drawTicks: false,
          lineWidth: 1,
          color: c => (c.tick && xMajorTicks.includes(c.tick.value)) ? '#dedede' : '#c9c9c9'
        },
        border: {
          display: false,
          dash: c => (c.tick && xMajorTicks.includes(c.tick.value)) ? [] : [2, 4]
        }
      },
      y: {
        min: -2,
        max: 2,
        afterBuildTicks: axis => { axis.ticks = yTickValues.map(v => ({ value: v })); },
        ticks: { display: false },
        grid: { drawTicks: false, lineWidth: 1, color: '#e2e2e2' },
        border: { display: false }
      }
    }
  },
  plugins: [axesDecor]
});
</script>
</body>
</html>
